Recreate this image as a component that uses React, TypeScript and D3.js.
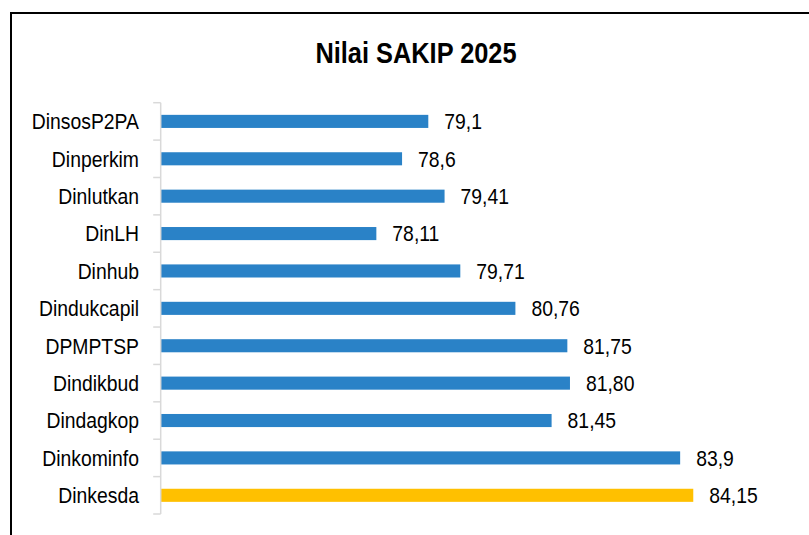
import React, { useEffect, useRef } from "react";
import * as d3 from "d3";

const categories = [
  "DinsosP2PA",
  "Dinperkim",
  "Dinlutkan",
  "DinLH",
  "Dinhub",
  "Dindukcapil",
  "DPMPTSP",
  "Dindikbud",
  "Dindagkop",
  "Dinkominfo",
  "Dinkesda",
];
const values = [79.1, 78.6, 79.41, 78.11, 79.71, 80.76, 81.75, 81.8, 81.45, 83.9, 84.15];
const valueLabels = ["79,1", "78,6", "79,41", "78,11", "79,71", "80,76", "81,75", "81,80", "81,45", "83,9", "84,15"];
const highlight = "Dinkesda";
const title = "Nilai SAKIP 2025";

const W = 809;
const H = 535;
const FONT = "'Liberation Sans', Arial, sans-serif";
// the original uses a narrow face; squeeze the regular one horizontally
const SQUEEZE = 0.88;

export default function App() {
  const ref = useRef<SVGSVGElement>(null);

  useEffect(() => {
    document.body.style.margin = "0";
    const svg = d3.select(ref.current);
    svg.selectAll("*").remove();

    const left = 160.7;
    const top = 102.7;
    const bottom = 514;

    const x = d3.scaleLinear().domain([74, 86]).range([left, left + 12 * 52.47]);
    const y = d3.scaleBand().domain(categories).range([top, bottom]).paddingInner(0.65).paddingOuter(0.325);

    // frame
    svg.append("rect")
      .attr("x", 11).attr("y", 13)
      .attr("width", W + 20).attr("height", H + 20)
      .attr("fill", "white").attr("stroke", "black").attr("stroke-width", 2);

    svg.append("text")
      .attr("transform", "translate(416,63) scale(0.875,1)")
      .attr("text-anchor", "middle")
      .attr("font-family", FONT).attr("font-weight", "bold")
      .attr("font-size", 29).attr("fill", "#000")
      .text(title);

    const g = svg.append("g");

    // bars
    g.selectAll("rect.bar").data(categories).enter().append("rect")
      .attr("class", "bar")
      .attr("x", x(74))
      .attr("y", d => y(d) as number)
      .attr("height", y.bandwidth())
      .attr("width", (d, i) => x(values[i]) - x(74))
      .attr("fill", d => (d === highlight ? "#ffc000" : "#2a82c7"));

    // axis line and ticks
    const step = y.step();
    const bounds = d3.range(categories.length + 1).map(i => top + i * step);
    g.append("line")
      .attr("x1", left).attr("x2", left)
      .attr("y1", top).attr("y2", bottom)
      .attr("stroke", "#d9d9d9").attr("stroke-width", 1.5);
    g.selectAll("line.tick").data(bounds).enter().append("line")
      .attr("class", "tick")
      .attr("x1", left - 7.5).attr("x2", left)
      .attr("y1", d => d).attr("y2", d => d)
      .attr("stroke", "#d9d9d9").attr("stroke-width", 1.5);

    const mid = (d: string) => (y(d) as number) + y.bandwidth() / 2;

    // category labels
    g.selectAll("text.cat").data(categories).enter().append("text")
      .attr("class", "cat")
      .attr("transform", d => `translate(139,${mid(d)}) scale(${SQUEEZE},1)`)
      .attr("dy", "0.36em")
      .attr("text-anchor", "end")
      .attr("font-family", FONT).attr("font-size", 22).attr("fill", "#000")
      .text(d => d);

    // value labels
    g.selectAll("text.val").data(categories).enter().append("text")
      .attr("class", "val")
      .attr("transform", (d, i) => `translate(${x(values[i]) + 16},${mid(d)}) scale(${SQUEEZE},1)`)
      .attr("dy", "0.36em")
      .attr("font-family", FONT).attr("font-size", 22).attr("fill", "#000")
      .text((d, i) => valueLabels[i]);
  }, []);

  return (
    <svg
      ref={ref}
      width={W}
      height={H}
      style={{ position: "absolute", left: 0, top: 0, display: "block" }}
    />
  );
}
